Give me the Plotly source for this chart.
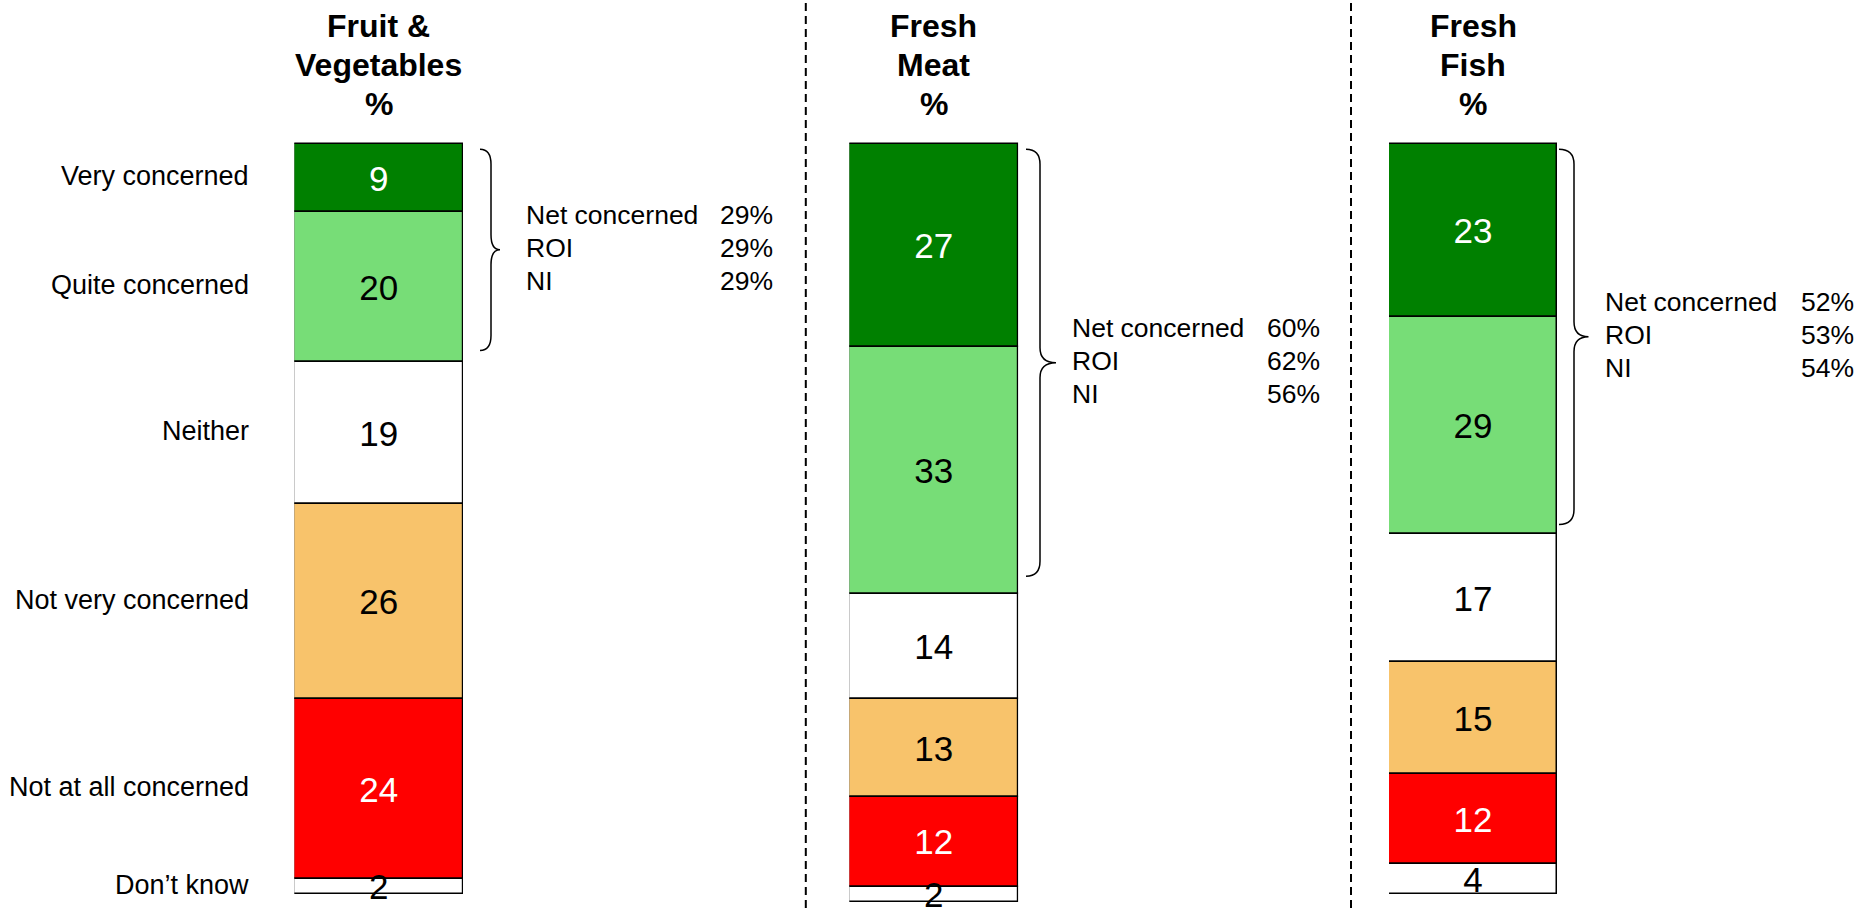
import plotly.graph_objects as go

# ---------------- data ----------------
categories = ["Very concerned", "Quite concerned", "Neither",
              "Not very concerned", "Not at all concerned", "Don\u2019t know"]
panel_titles = [["Fruit &", "Vegetables", "%"], ["Fresh", "Meat", "%"], ["Fresh", "Fish", "%"]]
fruit_veg = [9, 20, 19, 26, 24, 2]
fresh_meat = [27, 33, 14, 13, 12, 2]
fresh_fish = [23, 29, 17, 15, 12, 4]
net_labels = ["Net concerned", "ROI", "NI"]
net_fruit_veg = [29, 29, 29]
net_fresh_meat = [60, 62, 56]
net_fresh_fish = [52, 53, 54]

# ---------------- style ----------------
seg_colors = ["#008000", "#77DD77", "#FFFFFF", "#F8C36B", "#FF0000", "#FFFFFF"]
text_colors = ["white", "black", "black", "black", "white", "black"]
FONT = "Arial, Liberation Sans, sans-serif"

W, H = 1855, 908
TOP = 144.3      # pixel of value 0
UNIT = 7.497     # pixels per percentage point
TEXT_DY = 0.55   # small downward nudge of value labels (in units)
bar_px = [(294.3, 463.0), (849.3, 1018.3), (1389.0, 1557.0)]
divider_px = [805.8, 1351.0]
brace_px = [(480, 491, 500), (1026, 1040, 1056), (1559, 1574, 1588.5)]
brace_inset = [1.5, 2.4, 1.3]
net_text_px = [(524, 718), (1070, 1265), (1603, 1799)]
title_line_px = [26.2, 65.0, 104.0]
label_right_px = 251

series = [fruit_veg, fresh_meat, fresh_fish]
nets = [net_fruit_veg, net_fresh_meat, net_fresh_fish]

fig = go.Figure()
annotations = []
shapes = []
layout_axes = {}

for i, vals in enumerate(series):
    xa = "x" if i == 0 else f"x{i + 1}"
    starts = []
    acc = 0
    for v in vals:
        starts.append(acc)
        acc += v
    mids = [s + v / 2 + TEXT_DY for s, v in zip(starts, vals)]

    fig.add_trace(go.Bar(
        x=[0] * len(vals), y=vals, base=starts, width=1,
        marker=dict(color=seg_colors, line=dict(color="black", width=1.5)),
        xaxis=xa, yaxis="y", cliponaxis=False, showlegend=False,
        hoverinfo="skip"))
    fig.add_trace(go.Scatter(
        x=[0] * len(vals), y=mids, mode="text",
        text=[str(v) for v in vals],
        textfont=dict(size=35, color=text_colors, family=FONT),
        xaxis=xa, yaxis="y", cliponaxis=False, showlegend=False,
        hoverinfo="skip"))

    l, r = bar_px[i]
    key = "xaxis" if i == 0 else f"xaxis{i + 1}"
    layout_axes[key] = dict(domain=[l / W, r / W], range=[-0.5, 0.5],
                            visible=False, anchor="y", fixedrange=True)

    # panel title, one annotation per line
    for line_text, ly in zip(panel_titles[i], title_line_px):
        annotations.append(dict(
            x=(l + r) / 2 / W, y=1 - ly / H, xref="paper", yref="paper",
            text="<b>" + line_text + "</b>", showarrow=False,
            xanchor="center", yanchor="middle",
            font=dict(size=32, color="black", family=FONT)))

    # brace around the two "concerned" segments
    xs, xl, xt = [p / W for p in brace_px[i]]
    yt = 0.65
    yb = vals[0] + vals[1] - brace_inset[i]
    ym = (yt + yb) / 2
    rr = 2.0
    path = (f"M {xs},{yt} Q {xl},{yt} {xl},{yt + rr} "
            f"L {xl},{ym - rr} Q {xl},{ym} {xt},{ym} "
            f"Q {xl},{ym} {xl},{ym + rr} "
            f"L {xl},{yb - rr} Q {xl},{yb} {xs},{yb}")
    shapes.append(dict(type="path", path=path, xref="paper", yref="y",
                       line=dict(color="black", width=1.5)))

    # net concerned text block
    lx, px = net_text_px[i]
    for j, (lab, val) in enumerate(zip(net_labels, nets[i])):
        shift = (1 - j) * 33 + 2
        annotations.append(dict(
            x=lx / W, y=ym, xref="paper", yref="y", yshift=shift,
            text=lab, showarrow=False, xanchor="left", yanchor="middle",
            font=dict(size=26.5, color="black", family=FONT)))
        annotations.append(dict(
            x=px / W, y=ym, xref="paper", yref="y", yshift=shift,
            text=f"{val}%", showarrow=False, xanchor="left", yanchor="middle",
            font=dict(size=26.5, color="black", family=FONT)))

# category labels, aligned with the first panel's segments
acc = 0
for cat, v in zip(categories, fruit_veg):
    annotations.append(dict(
        x=label_right_px / W, y=acc + v / 2, xref="paper", yref="y",
        yshift=2,
        text=cat, showarrow=False, xanchor="right", yanchor="middle",
        font=dict(size=27, color="black", family=FONT)))
    acc += v

# dashed dividers
for dx in divider_px:
    shapes.append(dict(type="line", xref="paper", yref="paper",
                       x0=dx / W, x1=dx / W, y0=0, y1=1,
                       line=dict(color="black", width=2, dash="8px,5px")))

fig.update_layout(
    width=W, height=H,
    margin=dict(l=0, r=0, t=0, b=0),
    paper_bgcolor="white", plot_bgcolor="white",
    barmode="overlay", bargap=0,
    yaxis=dict(domain=[0, 1], range=[(H - TOP) / UNIT, -TOP / UNIT],
               visible=False, fixedrange=True),
    annotations=annotations, shapes=shapes,
    font=dict(family=FONT, color="black"),
    showlegend=False,
    **layout_axes,
)

fig.write_html("out.html",
               config={"displayModeBar": False},
               post_script="document.body.style.margin='0';document.body.style.overflow='hidden';")
